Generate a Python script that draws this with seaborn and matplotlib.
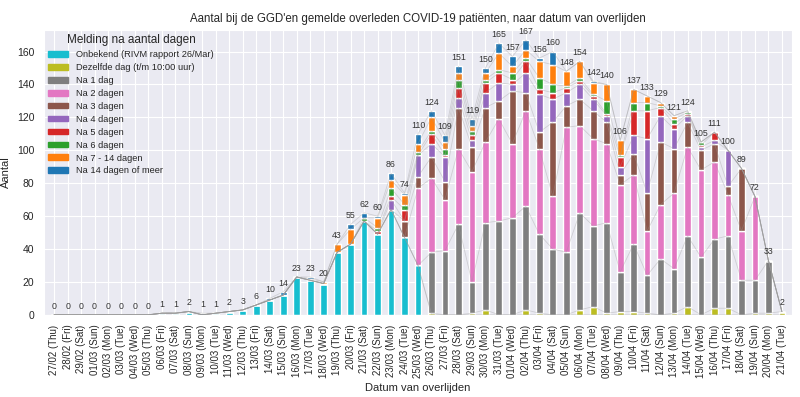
import numpy as np
import pandas as pd
import matplotlib
matplotlib.use("Agg")
import matplotlib.pyplot as plt
import seaborn as sns
from matplotlib.patches import Patch

dates = ["27/02 (Thu)", "28/02 (Fri)", "29/02 (Sat)", "01/03 (Sun)", "02/03 (Mon)", "03/03 (Tue)",
         "04/03 (Wed)", "05/03 (Thu)", "06/03 (Fri)", "07/03 (Sat)", "08/03 (Sun)", "09/03 (Mon)",
         "10/03 (Tue)", "11/03 (Wed)", "12/03 (Thu)", "13/03 (Fri)", "14/03 (Sat)", "15/03 (Sun)",
         "16/03 (Mon)", "17/03 (Tue)", "18/03 (Wed)", "19/03 (Thu)", "20/03 (Fri)", "21/03 (Sat)",
         "22/03 (Sun)", "23/03 (Mon)", "24/03 (Tue)", "25/03 (Wed)", "26/03 (Thu)", "27/03 (Fri)",
         "28/03 (Sat)", "29/03 (Sun)", "30/03 (Mon)", "31/03 (Tue)", "01/04 (Wed)", "02/04 (Thu)",
         "03/04 (Fri)", "04/04 (Sat)", "05/04 (Sun)", "06/04 (Mon)", "07/04 (Tue)", "08/04 (Wed)",
         "09/04 (Thu)", "10/04 (Fri)", "11/04 (Sat)", "12/04 (Sun)", "13/04 (Mon)", "14/04 (Tue)",
         "15/04 (Wed)", "16/04 (Thu)", "17/04 (Fri)", "18/04 (Sat)", "19/04 (Sun)", "20/04 (Mon)",
         "21/04 (Tue)"]

onbekend = [0, 0, 0, 0, 0, 0, 0, 0, 1, 1, 2, 0, 1, 2, 3, 6, 9, 12, 23, 21, 19, 38, 43, 57, 49, 64, 47, 30,
            0, 0, 0, 0, 0, 0, 0, 0, 0, 0, 0, 0, 0, 0, 0, 0, 0, 0, 0, 0, 0, 0, 0, 0, 0, 0, 0]
dag0 = [0] * 28 + [1, 0, 0, 1, 3, 0, 0, 3, 1, 0, 0, 3, 5, 1, 2, 2, 1, 0, 1, 5, 0, 4, 4, 0, 1, 1, 2]
dag1 = [0] * 28 + [37, 39, 55, 19, 53, 57, 59, 63, 48, 40, 38, 59, 49, 55, 24, 41, 23, 34, 27, 43, 35, 42, 44, 21, 20, 32, 0]
dag2 = [0] * 27 + [47, 45, 31, 46, 67, 49, 62, 45, 58, 52, 32, 76, 53, 53, 48, 53, 42, 27, 33, 46, 54, 53, 47, 25, 30, 51, 0, 0]
dag3 = [0] * 26 + [10, 7, 13, 11, 25, 15, 21, 11, 32, 11, 10, 45, 13, 16, 17, 13, 6, 13, 23, 38, 27, 15, 12, 11, 5, 38, 0, 0, 0]
dag4 = [0] * 25 + [6, 0, 13, 8, 15, 6, 4, 9, 11, 4, 12, 23, 14, 8, 9, 7, 4, 5, 11, 33, 16, 12, 4, 2, 2, 22, 0, 0, 0, 0]
dag5 = [0] * 24 + [2, 2, 7, 0, 6, 1, 6, 3, 6, 6, 3, 7, 3, 4, 3, 2, 2, 1, 6, 15, 17, 5, 3, 1, 1, 5, 0, 0, 0, 0, 0]
dag6 = [0] * 23 + [2, 2, 5, 3, 2, 2, 4, 5, 3, 2, 2, 4, 2, 7, 5, 1, 2, 1, 8, 1, 5, 5, 1, 3, 1, 2, 0, 0, 0, 0, 0, 0]
dag7_14 = [0] * 19 + [1, 1, 5, 9, 0, 6, 5, 6, 5, 8, 4, 4, 3, 4, 10, 4, 5, 10, 12, 9, 10, 7, 10, 9, 8, 4, 2, 2, 1,
                      0, 0, 0, 0, 0, 0, 0]
dag14p = [0] * 11 + [1, 0, 0, 0, 0, 1, 2, 0, 1, 0, 0, 3, 3, 1, 4, 1, 6, 4, 4, 4, 4, 3, 6, 6, 6, 2, 8, 0, 0, 1, 0,
                     0, 0, 0, 0, 0, 0, 0, 0, 0, 0, 0, 0, 0]

series = [onbekend, dag0, dag1, dag2, dag3, dag4, dag5, dag6, dag7_14, dag14p]
labels = ["Onbekend (RIVM rapport 26/Mar)", "Dezelfde dag (t/m 10:00 uur)", "Na 1 dag", "Na 2 dagen",
          "Na 3 dagen", "Na 4 dagen", "Na 5 dagen", "Na 6 dagen", "Na 7 - 14 dagen", "Na 14 dagen of meer"]
colors = ["#17becf", "#bcbd22", "#7f7f7f", "#e377c2", "#8c564b", "#9467bd", "#d62728", "#2ca02c",
          "#ff7f0e", "#1f77b4"]

sns.set_style("darkgrid")
plt.rcParams["font.family"] = ["Liberation Sans", "DejaVu Sans"]

fig, ax = plt.subplots(figsize=(8, 3.97), dpi=100)
fig.subplots_adjust(left=0.055, right=0.99, top=0.924, bottom=0.207)

x = np.arange(len(dates))
bottom = np.zeros(len(dates))
for vals, lab, col in zip(series, labels, colors):
    v = np.array(vals, dtype=float)
    ax.bar(x, v, bottom=bottom, width=0.5, color=col, label=lab, zorder=2)
    bottom = bottom + v
    ax.plot(x, bottom, color="#999999", alpha=0.35, lw=0.6, zorder=3)

totals = bottom
for xi, t in zip(x, totals):
    ax.text(xi, t + 2.5, f"{int(t)}", ha="center", va="bottom", fontsize=6.3, color="#333333")

ax.set_xlim(-0.75, len(dates) - 0.25)
ax.set_ylim(0, 173)
ax.set_xticks(x)
ax.set_xticklabels(dates, rotation=90, fontsize=7)
ax.set_yticks(np.arange(0, 161, 20))
ax.tick_params(axis="y", labelsize=7.5)
ax.set_ylabel("Aantal", fontsize=8)
ax.set_xlabel("Datum van overlijden", fontsize=8)
ax.set_title("Aantal bij de GGD'en gemelde overleden COVID-19 patiënten, naar datum van overlijden", fontsize=8.3)

handles = [Patch(color=c, label=l) for c, l in zip(colors, labels)]
ax.legend(handles=handles, loc="upper left", title="Melding na aantal dagen", fontsize=6.7,
          title_fontsize=8.5, frameon=False, labelspacing=0.42, handleheight=0.55,
          handlelength=2.1, handletextpad=0.9, borderaxespad=0.05, bbox_to_anchor=(0.0, 1.0))

fig.savefig("out.png", dpi=100)
